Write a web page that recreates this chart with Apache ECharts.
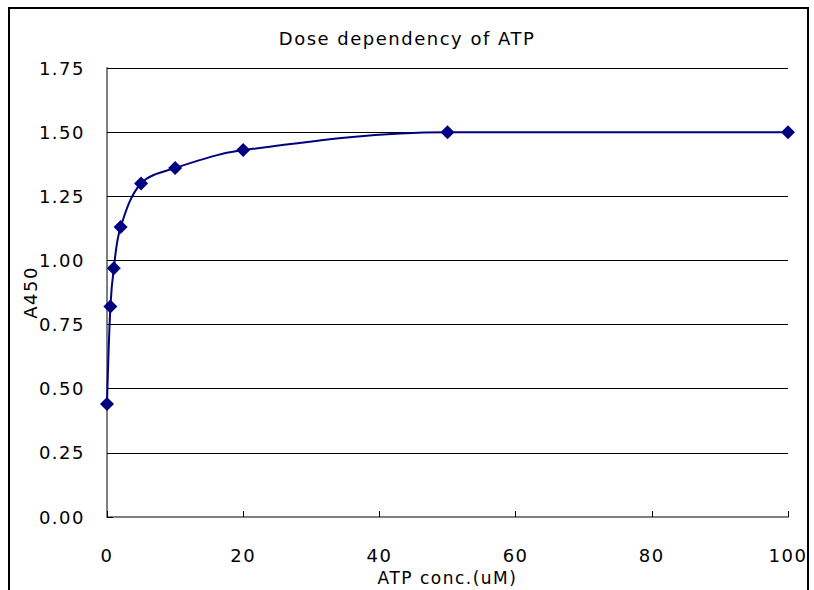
<!DOCTYPE html>
<html>
<head>
<meta charset="utf-8">
<script src="https://cdn.jsdelivr.net/npm/echarts@6/dist/echarts.min.js"></script>
<style>
  body { margin: 0; background: #fff; }
  #wrap { position: relative; width: 814px; height: 590px; overflow: hidden; }
  #frame { position: absolute; left: 8px; top: 7px; width: 801px; height: 620px; border: 2px solid #000; box-sizing: border-box; }
  #main { position: absolute; left: 0; top: 0; width: 814px; height: 590px; }
  #main svg text { letter-spacing: 1.5px; }
</style>
</head>
<body>
<div id="wrap">
  <div id="frame"></div>
  <div id="main"></div>
</div>
<script>
// ATP濃度 (uM) と A450
var conc = [0, 0.5, 1, 2, 5, 10, 20, 50, 100]
var a450 = [0.44, 0.82, 0.97, 1.13, 1.30, 1.36, 1.43, 1.50, 1.50]
var yTicks = [0, 0.25, 0.5, 0.75, 1, 1.25, 1.5, 1.75]

var points = []
for (var i = 0; i < conc.length; i++) {
  points.push([conc[i], a450[i]])
}

var font = 'DejaVu Sans'
var chart = echarts.init(document.getElementById('main'), null, {renderer: 'svg'})
chart.setOption({
  animation: false,
  title: {
    text: 'Dose dependency of ATP',
    left: 'center',
    top: 24,
    textStyle: {fontFamily: font, fontSize: 18, fontWeight: 'normal', color: '#000'}
  },
  grid: {left: 107, right: 26, top: 68, bottom: 73, outerBoundsMode: 'none', containLabel: false},
  xAxis: {
    type: 'value',
    min: 0,
    max: 100,
    interval: 20,
    name: 'ATP conc.(uM)',
    nameLocation: 'middle',
    nameGap: 52,
    nameMoveOverlap: false,
    nameTextStyle: {fontFamily: font, fontSize: 17, color: '#000'},
    axisLine: {onZero: false, lineStyle: {color: '#808080', width: 2}},
    axisTick: {inside: true, length: 6, lineStyle: {color: '#000'}},
    axisLabel: {margin: 29, fontFamily: font, fontSize: 18, color: '#000'},
    splitLine: {show: false}
  },
  yAxis: {
    type: 'value',
    min: 0,
    max: 1.75,
    interval: 0.25,
    name: 'A450',
    nameLocation: 'middle',
    nameGap: 68,
    nameMoveOverlap: false,
    nameTextStyle: {fontFamily: font, fontSize: 18, color: '#000'},
    axisLine: {show: true, lineStyle: {color: '#808080', width: 2}},
    axisTick: {show: true, inside: true, length: 6, lineStyle: {color: '#000'}},
    axisLabel: {
      margin: 22,
      fontFamily: font,
      fontSize: 18,
      color: '#000',
      formatter: function (v) {
        return yTicks.indexOf(v) >= 0 ? v.toFixed(2) : ''
      }
    },
    splitLine: {show: true, lineStyle: {color: '#000', width: 1}}
  },
  series: [{
    type: 'line',
    data: points,
    smooth: 0.35,
    symbol: 'diamond',
    symbolSize: 14,
    lineStyle: {color: '#000080', width: 2},
    itemStyle: {color: '#000080'}
  }]
})
</script>
</body>
</html>
